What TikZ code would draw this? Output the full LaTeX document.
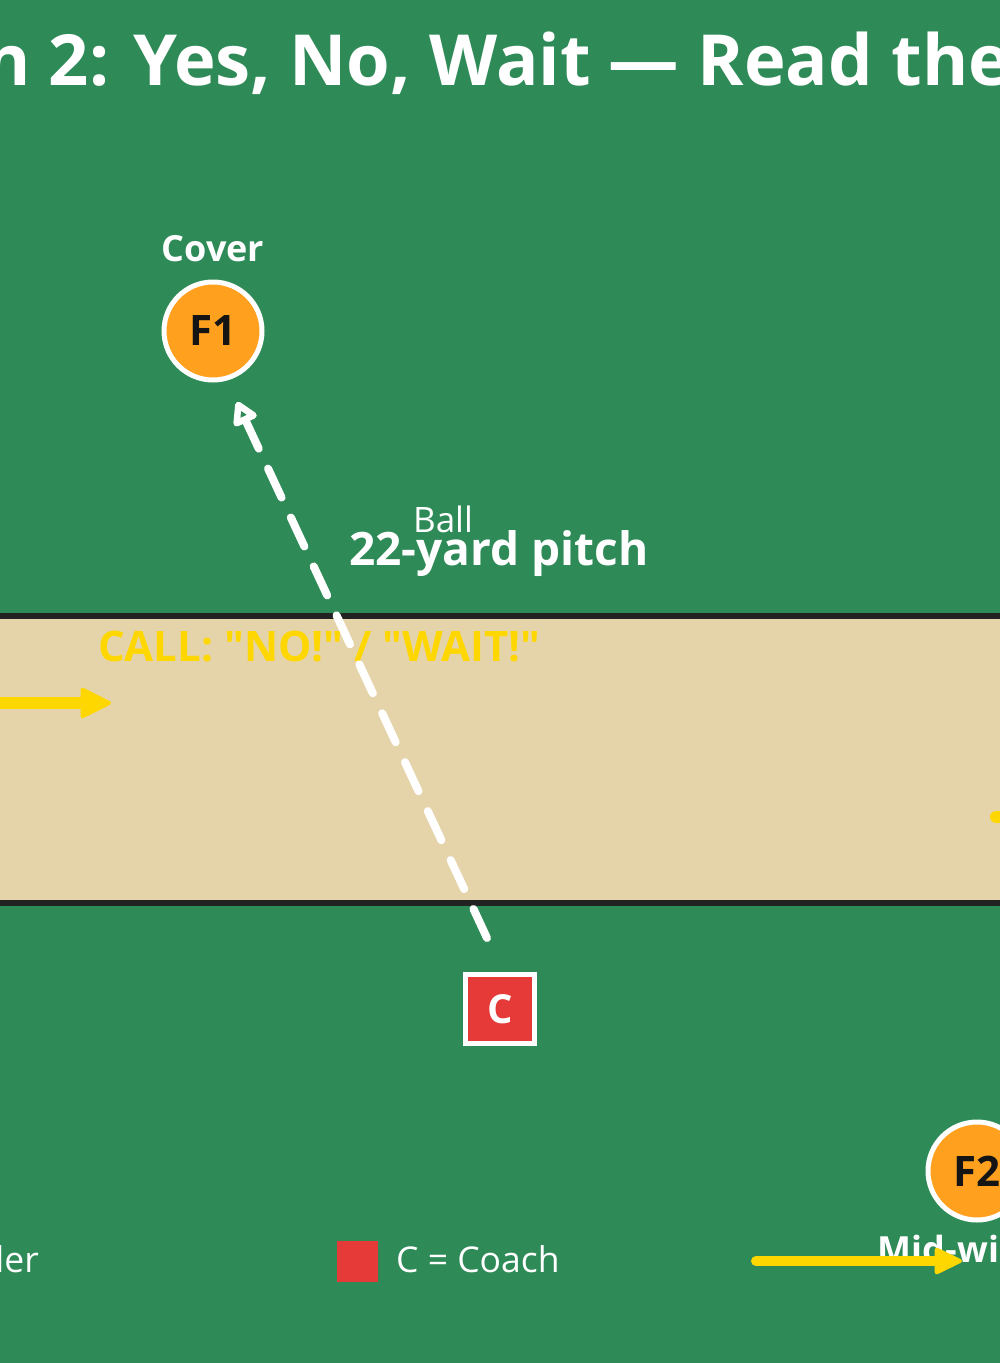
\documentclass[tikz,border=0pt]{standalone}
\usepackage{fontspec}
\setmainfont{Open Sans}
\usetikzlibrary{arrows.meta}
\definecolor{field-green}{HTML}{2E8B57}
\definecolor{pitch-tan}{HTML}{E5D4AA}
\definecolor{pitch-edge}{HTML}{222222}
\definecolor{fielder-orange}{HTML}{FFA01E}
\definecolor{coach-red}{HTML}{E53A37}
\definecolor{call-gold}{HTML}{FFD700}
\definecolor{ink}{HTML}{141414}
\tikzset{
    pitch-strip/.style = {draw=pitch-edge, fill=pitch-tan, line width=6pt},
    title-text/.style = {text=white, font=\fontsize{70.5}{78}\selectfont\bfseries, inner sep=0pt},
    fielder/.style = {circle, draw=white, fill=fielder-orange, line width=5pt, minimum size=98pt, inner sep=0pt, text=ink, font=\fontsize{42}{46}\selectfont\bfseries},
    fielder-label/.style = {text=white, font=\fontsize{36}{40}\selectfont\bfseries, inner sep=0pt},
    coach-box/.style = {rectangle, draw=white, fill=coach-red, line width=5pt, minimum size=69pt, inner sep=0pt, text=white, font=\fontsize{40}{44}\selectfont\bfseries},
    pitch-label/.style = {text=white, font=\fontsize{46}{50}\selectfont\bfseries, inner sep=0pt},
    ball-label/.style = {text=white, font=\fontsize{35}{40}\selectfont, inner sep=0pt},
    call-text/.style = {text=call-gold, font=\fontsize{42}{46}\selectfont\bfseries, inner sep=0pt},
    ball-path/.style = {draw=white, line width=8pt, line cap=round, dash pattern=on 32pt off 22pt, -{Triangle[open, round, line width=7pt, length=26pt, width=28pt]}},
    run-arrow/.style = {draw=call-gold, line width=12pt, line cap=round, -{Triangle[round, line width=4pt, length=33pt, width=32pt]}},
    run-arrow-key/.style = {draw=call-gold, line width=10pt, line cap=round, -{Triangle[round, line width=4pt, length=30pt, width=28pt]}},
    legend-swatch/.style = {rectangle, fill=coach-red, minimum size=41pt, inner sep=0pt},
    legend-text/.style = {text=white, font=\fontsize{35.5}{40}\selectfont, inner sep=0pt},
}
\begin{document}
\begin{tikzpicture}[x=1pt, y=-1pt]
\useasboundingbox (0,0) rectangle (1000,1363);
\clip (0,0) rectangle (1000,1363);
\fill[field-green] (0,0) rectangle (1000,1363);

% pitch
\draw[pitch-strip] (-20,616) rectangle (1020,903);

\node[title-text, anchor=base west] (title) at (-16,85) {n 2: Yes, No, Wait — Read the};

% players
\node[fielder] (f1) at (213,331) {F1};
\node[fielder-label, anchor=base] (f1-label) at (213,261) {Cover};
\node[fielder] (f2) at (977,1171) {F2};
\node[fielder-label, anchor=base] (f2-label) at (977,1262) {Mid-wicket};
\node[coach-box] (coach) at (500,1009) {C};

\node[ball-label, anchor=base] (ball-label) at (443,532) {Ball};
\node[pitch-label, anchor=base] (pitch-label) at (499,565) {22-yard pitch};
\node[call-text, anchor=base west] (call) at (98,661) {CALL: \textquotedbl NO!\textquotedbl{} / \textquotedbl WAIT!\textquotedbl};

% ball and runs
\coordinate (ball-from) at (487,938);
\coordinate (ball-to) at (237,402);
\draw[ball-path] (ball-from) -- (ball-to);

\coordinate (run-from) at (-40,703);
\coordinate (run-to) at (111,703);
\draw[run-arrow] (run-from) -- (run-to);
\coordinate (run-b-from) at (996,817);
\coordinate (run-b-to) at (1080,817);
\draw[run-arrow] (run-b-from) -- (run-b-to);

% legend
\node[legend-text, anchor=base east] (fielder-key-text) at (39,1272) {ler};
\node[legend-swatch] (coach-key) at (357,1261) {};
\node[legend-text, anchor=base west] (coach-key-text) at (396,1272) {C = Coach};
\coordinate (run-key-from) at (756,1261);
\coordinate (run-key-to) at (962,1261);
\draw[run-arrow-key] (run-key-from) -- (run-key-to);
\end{tikzpicture}
\end{document}
